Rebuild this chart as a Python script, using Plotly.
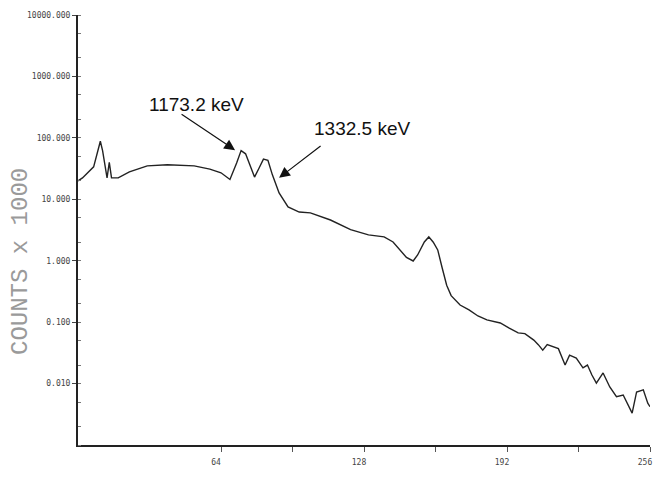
import plotly.graph_objects as go

# Spectrum readings (channel, counts/1000)
channels = [0, 2, 7, 10, 11, 12, 13, 14, 15, 18, 23, 31, 40, 52, 59, 64, 68, 71, 73, 75,
            77, 79, 81, 83, 85, 87, 90, 94, 99, 104, 113, 122, 130, 137, 141, 144, 147, 150,
            152, 155, 157, 159, 161, 163, 165, 167, 171, 175, 179, 183, 189, 193, 197, 200,
            204, 206, 208, 210, 213, 215, 218, 220, 223, 226, 228, 230, 232, 235, 238, 241,
            244, 246, 248, 250, 253, 255, 256]
counts = [20, 22.3, 33.7, 88, 62, 33.7, 22.3, 40, 22.3, 22.3, 27.9, 35, 36.4, 35, 31, 27, 21, 39, 62, 55,
          35, 23, 32, 45, 43, 25, 12.7, 7.5, 6.2, 6.0, 4.6, 3.2, 2.63, 2.44, 2.02, 1.5, 1.13, 0.99,
          1.24, 2.02, 2.44, 2.0, 1.5, 0.76, 0.40, 0.27, 0.19, 0.158, 0.126, 0.109, 0.097, 0.08, 0.067, 0.065,
          0.051, 0.043, 0.035, 0.043, 0.039, 0.037, 0.020, 0.029, 0.026, 0.018, 0.020, 0.0138, 0.0102, 0.0149, 0.0088, 0.0061,
          0.0065, 0.0045, 0.0033, 0.0073, 0.0079, 0.0048, 0.0042]

ytick_vals = [0.01, 0.1, 1, 10, 100, 1000, 10000]
ytick_text = ["0.010", "0.100", "1.000", "10.000", "100.000", "1000.000", "10000.000"]
xtick_vals = [64, 96, 128, 160, 192, 224, 256]
xtick_text = ["64", "", "128", "", "192", "", "256"]

fig = go.Figure()
fig.add_trace(go.Scatter(x=channels, y=counts, mode="lines",
                         line=dict(color="#222222", width=1.4), showlegend=False))

tickfont = dict(family="DejaVu Sans Mono", size=8, color="#444444")
fig.update_layout(
    width=658, height=485,
    margin=dict(l=78, r=8, t=15, b=40),
    paper_bgcolor="white", plot_bgcolor="white",
    xaxis=dict(range=[0, 256], tickvals=xtick_vals, ticktext=xtick_text, automargin=False,
               showgrid=False, zeroline=False, showline=True, linecolor="#222222", linewidth=1.5,
               ticks="outside", ticklen=5, tickcolor="#555555", tickfont=tickfont,
               ticklabelshift=-5, ticklabelstandoff=4),
    yaxis=dict(type="log", range=[-3, 4], tickvals=ytick_vals, ticktext=ytick_text, automargin=False,
               showgrid=False, zeroline=False, showline=True, linecolor="#222222", linewidth=2,
               ticks="outside", ticklen=4, tickcolor="#444444", tickfont=tickfont,
               minor=dict(ticks="inside", ticklen=3, tickcolor="#777777", showgrid=False)),
)

fig.add_annotation(text="COUNTS x 1000", xref="paper", yref="paper",
                   x=(20 - 78) / 572, y=(445 - 262) / 430, xanchor="center", yanchor="middle",
                   textangle=-90, showarrow=False,
                   font=dict(family="Liberation Mono", size=24, color="#9a9a9a"))

fig.add_annotation(text="1173.2 keV", xref="paper", yref="paper",
                   x=(196 - 78) / 572, y=(445 - 104) / 430, xanchor="center", yanchor="middle",
                   showarrow=False,
                   font=dict(family="Liberation Sans", size=19, color="#111111"))
fig.add_annotation(text="1332.5 keV", xref="paper", yref="paper",
                   x=(362 - 78) / 572, y=(445 - 128) / 430, xanchor="center", yanchor="middle",
                   showarrow=False,
                   font=dict(family="Liberation Sans", size=19, color="#111111"))

fig.add_annotation(text="", x=70.3, y=1.80, xref="x", yref="y", ax=-55, ay=-37,
                   showarrow=True, arrowhead=2, arrowsize=1.8, arrowwidth=1.2, arrowcolor="#111111")
fig.add_annotation(text="", x=90, y=1.349, xref="x", yref="y", ax=43, ay=-33,
                   showarrow=True, arrowhead=2, arrowsize=1.8, arrowwidth=1.2, arrowcolor="#111111")

fig.write_html("out.html", config={"displayModeBar": False},
               post_script="document.body.style.margin='0px';")
